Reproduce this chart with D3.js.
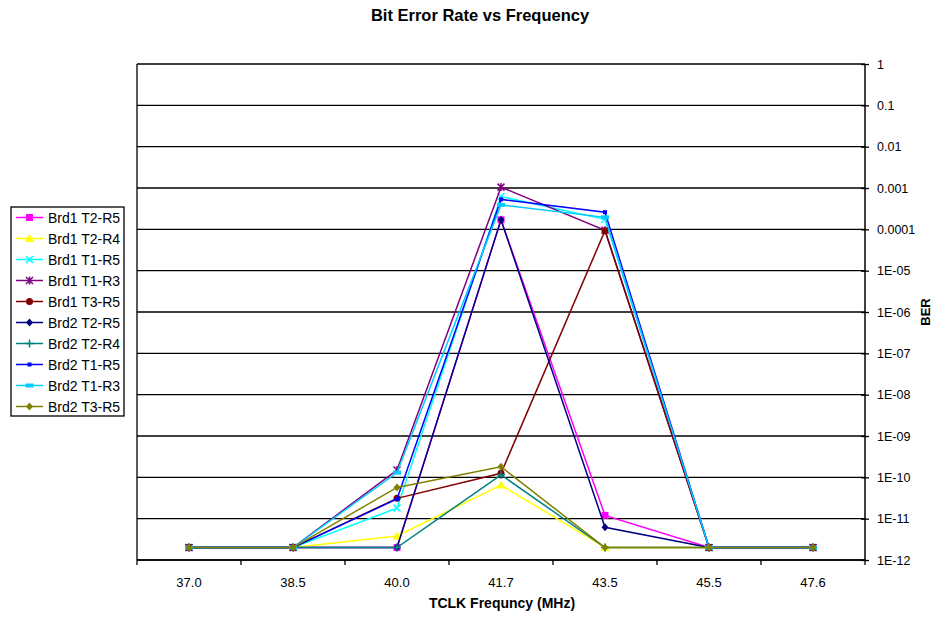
<!DOCTYPE html>
<html>
<head>
<meta charset="utf-8">
<script src="https://cdn.jsdelivr.net/npm/d3@7"></script>
<style>
  body { margin: 0; background: #fff; }
  svg { font-family: "Liberation Sans", Arial, sans-serif; }
</style>
</head>
<body>
<svg id="chart" width="937" height="617"></svg>
<script>
// categories (MHz)
var freqs = ['37.0', '38.5', '40.0', '41.7', '43.5', '45.5', '47.6'];

// BER per series (2e-12 = floor / no errors)
var brd1T2R5 = [2e-12, 2e-12, 2e-12, 1.7e-4, 1.2e-11, 2e-12, 2e-12];
var brd1T2R4 = [2e-12, 2e-12, 3.8e-12, 6.5e-11, 2e-12, 2e-12, 2e-12];
var brd1T1R5 = [2e-12, 2e-12, 1.8e-11, 6.2e-4, 1.75e-4, 2e-12, 2e-12];
var brd1T1R3 = [2e-12, 2e-12, 1.5e-10, 1.05e-3, 9.5e-5, 2e-12, 2e-12];
var brd1T3R5 = [2e-12, 2e-12, 3.1e-11, 1.25e-10, 9.3e-5, 2e-12, 2e-12];
var brd2T2R5 = [2e-12, 2e-12, 2e-12, 1.7e-4, 6.2e-12, 2e-12, 2e-12];
var brd2T2R4 = [2e-12, 2e-12, 2e-12, 1.15e-10, 2e-12, 2e-12, 2e-12];
var brd2T1R5 = [2e-12, 2e-12, 3e-11, 5.3e-4, 2.6e-4, 2e-12, 2e-12];
var brd2T1R3 = [2e-12, 2e-12, 1.3e-10, 3.9e-4, 1.95e-4, 2e-12, 2e-12];
var brd2T3R5 = [2e-12, 2e-12, 5.7e-11, 1.8e-10, 2e-12, 2e-12, 2e-12];

var seriesNames = ['Brd1 T2-R5', 'Brd1 T2-R4', 'Brd1 T1-R5', 'Brd1 T1-R3', 'Brd1 T3-R5',
                   'Brd2 T2-R5', 'Brd2 T2-R4', 'Brd2 T1-R5', 'Brd2 T1-R3', 'Brd2 T3-R5'];
var seriesValues = [brd1T2R5, brd1T2R4, brd1T1R5, brd1T1R3, brd1T3R5,
                    brd2T2R5, brd2T2R4, brd2T1R5, brd2T1R3, brd2T3R5];
var yTicks = [1, 0.1, 0.01, 1e-3, 1e-4, 1e-5, 1e-6, 1e-7, 1e-8, 1e-9, 1e-10, 1e-11, 1e-12];

var colors = ['#ff00ff', '#ffff00', '#00ffff', '#800080', '#800000',
              '#000080', '#008080', '#0000ff', '#00ccff', '#808000'];
var markers = ['square', 'triangle', 'x', 'star', 'circle',
               'diamond', 'plus', 'smallsq', 'dash', 'diamond'];

var series = seriesNames.map(function(n, i) {
  return { name: n, values: seriesValues[i], color: colors[i], marker: markers[i] };
});

var svg = d3.select('#chart');
var plotLeft = 137, plotRight = 865, plotTop = 64, plotBottom = 560;

var x = d3.scaleBand().domain(freqs).range([plotLeft, plotRight]);
var y = d3.scaleLog().domain([1e-12, 1]).range([plotBottom, plotTop]);

function cx(i) { return x(freqs[i]) + x.bandwidth() / 2; }

// Excel style: decimals down to 0.0001, then 1E-05 ...
function fmtTick(d) {
  if (d >= 1e-4) return String(+d.toPrecision(1));
  var e = Math.round(Math.log10(d));
  return '1E-' + (e > -10 ? '0' : '') + (-e);
}

// gridlines
svg.append('g').selectAll('line').data(yTicks).enter().append('line')
  .attr('x1', plotLeft).attr('x2', plotRight)
  .attr('y1', function(d) { return y(d); }).attr('y2', function(d) { return y(d); })
  .attr('stroke', '#000').attr('stroke-width', 1.3);

// left border
svg.append('line').attr('x1', plotLeft).attr('x2', plotLeft).attr('y1', plotTop).attr('y2', plotBottom)
  .attr('stroke', '#000').attr('stroke-width', 1.3);

// right y axis
var yAxis = d3.axisRight(y).tickValues(yTicks).tickFormat(fmtTick).tickSize(4);
var gy = svg.append('g').attr('transform', 'translate(' + plotRight + ',0)').call(yAxis);
gy.select('.domain').attr('stroke-width', 1.5).attr('d', 'M0,' + plotTop + 'V' + plotBottom);
gy.selectAll('.tick line').attr('x1', -4).attr('x2', 4).attr('stroke-width', 1.3);
gy.selectAll('.tick text').attr('x', 12).attr('font-size', 12.5).attr('fill', '#000');
gy.attr('font-family', null).attr('font-size', null);

// bottom x axis, ticks at category boundaries
var gx = svg.append('g').attr('transform', 'translate(0,' + plotBottom + ')');
gx.append('line').attr('x1', plotLeft).attr('x2', plotRight).attr('stroke', '#000').attr('stroke-width', 1.5);
var bounds = freqs.map(function(f) { return x(f); }).concat([plotRight]);
gx.selectAll('.bt').data(bounds).enter().append('line')
  .attr('x1', function(d) { return d; }).attr('x2', function(d) { return d; })
  .attr('y1', 0).attr('y2', 5).attr('stroke', '#000').attr('stroke-width', 1.3);
gx.selectAll('text').data(freqs).enter().append('text')
  .attr('x', function(d, i) { return cx(i); })
  .attr('y', 27).attr('text-anchor', 'middle').attr('font-size', 13).text(function(d) { return d; });

// lines
var line = d3.line()
  .x(function(d, i) { return cx(i); })
  .y(function(d) { return y(d); });

function drawMarker(g, type, color) {
  var s = 3.5;
  if (type === 'square') {
    g.append('rect').attr('x', -s).attr('y', -s).attr('width', 2 * s).attr('height', 2 * s).attr('fill', color);
  } else if (type === 'triangle') {
    g.append('path').attr('d', 'M0,-4.5L4.5,3.5L-4.5,3.5Z').attr('fill', color);
  } else if (type === 'x') {
    g.append('path').attr('d', 'M-3.5,-3.5L3.5,3.5M-3.5,3.5L3.5,-3.5').attr('stroke', color).attr('stroke-width', 1.5);
  } else if (type === 'star') {
    g.append('path').attr('d', 'M-3.5,-3.5L3.5,3.5M-3.5,3.5L3.5,-3.5M0,-4L0,4').attr('stroke', color).attr('stroke-width', 1.5);
  } else if (type === 'circle') {
    g.append('circle').attr('r', 3.5).attr('fill', color);
  } else if (type === 'diamond') {
    g.append('path').attr('d', 'M0,-4L3.5,0L0,4L-3.5,0Z').attr('fill', color);
  } else if (type === 'plus') {
    g.append('path').attr('d', 'M-4,0L4,0M0,-4L0,4').attr('stroke', color).attr('stroke-width', 1.5);
  } else if (type === 'smallsq') {
    g.append('rect').attr('x', -2).attr('y', -2).attr('width', 4).attr('height', 4).attr('fill', color);
  } else if (type === 'dash') {
    g.append('rect').attr('x', -4).attr('y', -2).attr('width', 8).attr('height', 4).attr('fill', color);
  }
}

var sg = svg.append('g').selectAll('g').data(series).enter().append('g');
sg.append('path')
  .attr('d', function(d) { return line(d.values); })
  .attr('fill', 'none').attr('stroke', function(d) { return d.color; }).attr('stroke-width', 1.5);
sg.each(function(s) {
  var g = d3.select(this);
  s.values.forEach(function(v, i) {
    var m = g.append('g').attr('transform', 'translate(' + cx(i) + ',' + y(v) + ')');
    drawMarker(m, s.marker, s.color);
  });
});

// legend
var lg = svg.append('g');
lg.append('rect').attr('x', 11).attr('y', 207).attr('width', 113).attr('height', 209)
  .attr('fill', '#fff').attr('stroke', '#000').attr('stroke-width', 1.3);
var li = lg.selectAll('.li').data(series).enter().append('g')
  .attr('transform', function(d, i) { return 'translate(0,' + (217.5 + i * 21) + ')'; });
li.append('line').attr('x1', 16).attr('x2', 43).attr('stroke', function(d) { return d.color; }).attr('stroke-width', 1.5);
li.each(function(s) {
  drawMarker(d3.select(this).append('g').attr('transform', 'translate(29.5,0)'), s.marker, s.color);
});
li.append('text').attr('x', 48).attr('y', 5).attr('font-size', 14).text(function(d) { return d.name; });

// titles
svg.append('text').attr('x', 480).attr('y', 21).attr('text-anchor', 'middle')
  .attr('font-size', 16.5).attr('font-weight', 'bold').text('Bit Error Rate vs Frequency');
svg.append('text').attr('x', 502).attr('y', 608).attr('text-anchor', 'middle')
  .attr('font-size', 14).attr('font-weight', 'bold').text('TCLK Frequncy (MHz)');
svg.append('text').attr('transform', 'translate(930,312) rotate(-90)').attr('text-anchor', 'middle')
  .attr('font-size', 13).attr('font-weight', 'bold').text('BER');
</script>
</body>
</html>
